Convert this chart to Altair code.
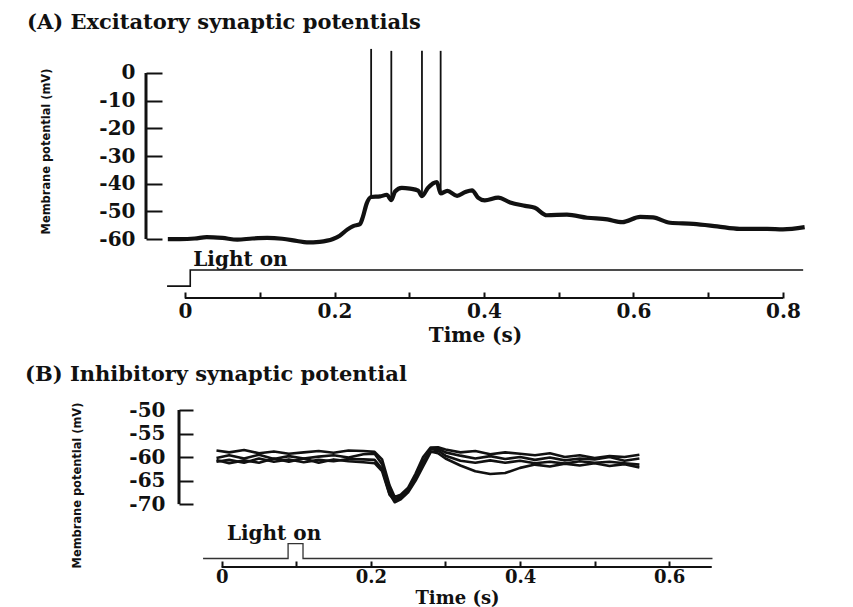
import altair as alt
import pandas as pd

# ---------------- Panel A: excitatory synaptic potentials ----------------
a_time = [-0.023, -0.007, 0.013, 0.029, 0.05, 0.07, 0.09, 0.11, 0.13, 0.15, 0.163, 0.18,
          0.198, 0.207, 0.217, 0.225, 0.234, 0.238, 0.243, 0.249, 0.261, 0.270, 0.276,
          0.281, 0.29, 0.301, 0.312, 0.317, 0.325, 0.337, 0.342, 0.351, 0.364, 0.375,
          0.384, 0.392, 0.401, 0.419, 0.435, 0.455, 0.468, 0.484, 0.511, 0.538, 0.565,
          0.585, 0.609, 0.626, 0.649, 0.680, 0.712, 0.742, 0.779, 0.80, 0.829]
a_mv = [-60.0, -60.0, -59.8, -59.3, -59.6, -60.2, -59.8, -59.6, -59.9, -60.7, -61.2, -61.0,
        -60.0, -58.8, -56.6, -55.3, -54.6, -52.0, -47.2, -44.8, -44.6, -44.0, -45.9,
        -42.8, -41.5, -41.8, -42.5, -44.5, -41.5, -39.4, -43.5, -42.6, -44.4, -43.0,
        -42.4, -45.0, -46.0, -45.0, -46.8, -48.0, -48.7, -51.4, -51.2, -52.3, -52.9,
        -53.9, -52.0, -52.2, -54.1, -54.5, -55.4, -56.3, -56.3, -56.5, -55.7]
spike_time = [0.249, 0.276, 0.317, 0.342]
spike_base = [-44.8, -45.5, -44.5, -43.5]
spike_peak = [8.7, 8.0, 8.0, 8.0]
lightA_time = [-0.024, 0.007, 0.007, 0.827]
lightA_level = [-77.0, -77.0, -71.2, -71.2]
yA_ticks = [0, -10, -20, -30, -40, -50, -60]
xA_ticks = [0, 0.1, 0.2, 0.3, 0.4, 0.5, 0.6, 0.7, 0.8]

# ---------------- Panel B: inhibitory synaptic potential ----------------
b_time = [-0.007, 0.01, 0.03, 0.05, 0.07, 0.09, 0.11, 0.13, 0.15, 0.17, 0.19, 0.205,
          0.215, 0.225, 0.232, 0.24, 0.25, 0.26, 0.27, 0.28, 0.29, 0.30, 0.32, 0.34,
          0.36, 0.38, 0.40, 0.42, 0.44, 0.46, 0.48, 0.50, 0.52, 0.54, 0.56]
b_trace1 = [-58.6, -59.0, -58.5, -59.2, -58.8, -59.3, -59.0, -58.7, -59.1, -58.6, -58.7, -58.9,
            -60.5, -66.0, -68.5, -68.0, -66.5, -63.5, -60.0, -58.0, -57.9, -58.4, -59.0, -58.7,
            -59.4, -59.0, -59.3, -59.6, -59.2, -60.0, -59.6, -60.2, -59.8, -60.0, -59.5]
b_trace2 = [-60.2, -59.6, -60.3, -59.5, -60.4, -59.8, -60.3, -59.9, -59.6, -60.1, -59.4, -59.3,
            -61.5, -67.0, -69.3, -68.8, -67.2, -64.5, -61.0, -58.4, -58.2, -59.0, -59.7, -60.3,
            -59.8, -60.4, -60.0, -60.6, -60.1, -60.7, -60.3, -60.5, -60.0, -60.8, -60.3]
b_trace3 = [-61.0, -60.6, -61.2, -60.3, -61.0, -60.5, -61.1, -60.6, -60.9, -60.4, -60.5, -60.6,
            -62.5, -67.8, -69.6, -69.0, -67.5, -65.0, -62.0, -59.0, -58.6, -59.7, -60.8, -61.2,
            -60.7, -61.2, -60.8, -61.3, -61.0, -61.4, -60.9, -61.2, -61.0, -61.3, -61.6]
b_trace4 = [-60.6, -61.3, -60.7, -61.2, -60.3, -61.0, -60.3, -61.2, -60.5, -60.9, -61.1, -61.3,
            -63.0, -68.0, -69.0, -68.4, -66.8, -64.0, -61.0, -58.8, -59.2, -60.3, -61.8, -63.0,
            -63.6, -63.4, -62.3, -61.6, -62.0, -61.4, -61.8, -61.3, -61.9, -61.5, -62.2]
lightB_time = [-0.025, 0.089, 0.089, 0.109, 0.109, 0.658]
lightB_level = [-81.55, -81.55, -78.4, -78.4, -81.55, -81.55]
yB_ticks = [-50, -55, -60, -65, -70]
xB_ticks = [0, 0.1, 0.2, 0.3, 0.4, 0.5, 0.6]

# ---------------- layout constants ----------------
WA, HA = 660, 249
WB, HB = 570, 157
xA_dom = [-0.0522, 0.8308]
yA_dom = [-81.3, 8.67]
xB_dom = [-0.1015, 0.6627]
yB_dom = [-83.36, -50.0]

LABEL_FONT = "DejaVu Serif"
YTITLE_FONT = "DejaVu Sans Condensed"
INK = "#111111"

label_expr_x = "round(datum.value*10) % 2 == 0 ? toString(datum.value) : ''"


def x_axis(ticks, title_x, title_y, pad, label_size, title_size):
    return alt.Axis(values=ticks, tickCount=len(ticks), domain=False, grid=False,
                    offset=-6, tickSize=6, tickWidth=2, tickColor=INK,
                    labelExpr=label_expr_x, labelOverlap=False, labelFlush=False,
                    labelPadding=pad, labelBaseline="middle", labelFont=LABEL_FONT,
                    labelFontSize=label_size, labelFontWeight="bold", labelColor=INK,
                    title="Time (s)", titleX=title_x, titleY=title_y,
                    titleBaseline="middle", titleAlign="center", titleAngle=0,
                    titleFont=LABEL_FONT, titleFontSize=title_size,
                    titleFontWeight="bold", titleColor=INK)


def y_axis(ticks, offset, tick_size, pad, title_x, title_y):
    return alt.Axis(values=ticks, tickCount=len(ticks), domain=False, grid=False,
                    offset=offset, tickSize=tick_size, tickWidth=2, tickColor=INK,
                    labelExpr="toString(datum.value)", labelOverlap=False,
                    labelPadding=pad, labelFont=LABEL_FONT, labelFontSize=20,
                    labelFontWeight="bold", labelColor=INK,
                    title="Membrane potential (mV)", titleX=title_x, titleY=title_y,
                    titleAngle=270, titleBaseline="middle", titleAlign="center",
                    titleFont=YTITLE_FONT, titleFontSize=12.7,
                    titleFontWeight="bold", titleColor=INK)


# ----- Panel A layers -----
dfA = pd.DataFrame({"t": a_time, "mv": a_mv})
dfSpk = pd.DataFrame({"t": spike_time, "base": spike_base, "peak": spike_peak})
dfLA = pd.DataFrame({"t": lightA_time, "mv": lightA_level, "i": range(len(lightA_time))})
dfAyl = pd.DataFrame({"lo": [min(yA_ticks)], "hi": [max(yA_ticks)]})
dfAxl = pd.DataFrame({"lo": [min(xA_ticks)], "hi": [max(xA_ticks)]})

xA = alt.X("t:Q", scale=alt.Scale(domain=xA_dom, nice=False, zero=False),
           axis=x_axis(xA_ticks, 329, 43, 13, 20, 20))
yA = alt.Y("mv:Q", scale=alt.Scale(domain=yA_dom, nice=False, zero=False),
           axis=y_axis(yA_ticks, -16, 16, 11, -117, 102))

traceA = alt.Chart(dfA).mark_line(color=INK, strokeWidth=4.2, strokeJoin="round",
                                  interpolate="monotone").encode(x=xA, y=yA)
spikes = alt.Chart(dfSpk).mark_rule(color=INK, strokeWidth=1.8).encode(
    x="t:Q", y="base:Q", y2="peak:Q")
lightA = alt.Chart(dfLA).mark_line(color=INK, strokeWidth=1.6).encode(
    x="t:Q", y="mv:Q", order="i:Q")
lightA_txt = alt.Chart(pd.DataFrame({"t": [0.011], "mv": [-67.6], "txt": ["Light on"]})).mark_text(
    align="left", baseline="middle", font=LABEL_FONT, fontSize=20, fontWeight="bold",
    color=INK).encode(x="t:Q", y="mv:Q", text="txt:N")
axisA_y = alt.Chart(dfAyl).mark_rule(color=INK, strokeWidth=3).encode(
    x=alt.value(0), y="lo:Q", y2="hi:Q")
axisA_x = alt.Chart(dfAxl).mark_rule(color=INK, strokeWidth=2).encode(
    x="lo:Q", x2="hi:Q", y=alt.value(HA))

panelA = alt.layer(traceA, spikes, lightA, lightA_txt, axisA_y, axisA_x).properties(
    width=WA, height=HA,
    title=alt.TitleParams("(A)  Excitatory synaptic potentials", dx=-119, offset=-2,
                          baseline="alphabetic"))

# ----- Panel B layers -----
rows = []
for name, vals in [("1", b_trace1), ("2", b_trace2), ("3", b_trace3), ("4", b_trace4)]:
    for t, v in zip(b_time, vals):
        rows.append({"t": t, "mv": v, "trace": name})
dfB = pd.DataFrame(rows)
dfLB = pd.DataFrame({"t": lightB_time, "mv": lightB_level, "i": range(len(lightB_time))})
dfByl = pd.DataFrame({"lo": [min(yB_ticks)], "hi": [max(yB_ticks)]})
dfBxl = pd.DataFrame({"lo": [min(xB_ticks)], "hi": [0.657]})

xB = alt.X("t:Q", scale=alt.Scale(domain=xB_dom, nice=False, zero=False),
           axis=x_axis(xB_ticks, 311, 37, 10, 18, 18))
yB = alt.Y("mv:Q", scale=alt.Scale(domain=yB_dom, nice=False, zero=False),
           axis=y_axis(yB_ticks, -47, 14, 14, -117, 75))

traceB = alt.Chart(dfB).mark_line(color=INK, strokeWidth=2.6, strokeJoin="round").encode(
    x=xB, y=yB, detail="trace:N", order="t:Q")
lightB = alt.Chart(dfLB).mark_line(color="#333333", strokeWidth=1.3).encode(
    x="t:Q", y="mv:Q", order="i:Q")
lightB_txt = alt.Chart(pd.DataFrame({"t": [0.007], "mv": [-76.4], "txt": ["Light on"]})).mark_text(
    align="left", baseline="middle", font=LABEL_FONT, fontSize=20, fontWeight="bold",
    color=INK).encode(x="t:Q", y="mv:Q", text="txt:N")
axisB_y = alt.Chart(dfByl).mark_rule(color=INK, strokeWidth=3).encode(
    x=alt.value(33), y="lo:Q", y2="hi:Q")
axisB_x = alt.Chart(dfBxl).mark_rule(color=INK, strokeWidth=2).encode(
    x="lo:Q", x2="hi:Q", y=alt.value(HB))

panelB = alt.layer(traceB, lightB, lightB_txt, axisB_y, axisB_x).properties(
    width=WB, height=HB,
    title=alt.TitleParams("(B)  Inhibitory synaptic potential", dx=-121, offset=-2,
                          baseline="alphabetic"))

chart = alt.vconcat(panelA, panelB, spacing=19).properties(
    padding={"left": 25, "top": 12, "right": 5, "bottom": 0},
    background="white",
).configure_view(stroke=None).configure_title(
    font=LABEL_FONT, fontSize=21, fontWeight="bold", anchor="start", frame="group",
    color=INK)

chart.save("out.html", embed_options={"renderer": "svg", "actions": False})
